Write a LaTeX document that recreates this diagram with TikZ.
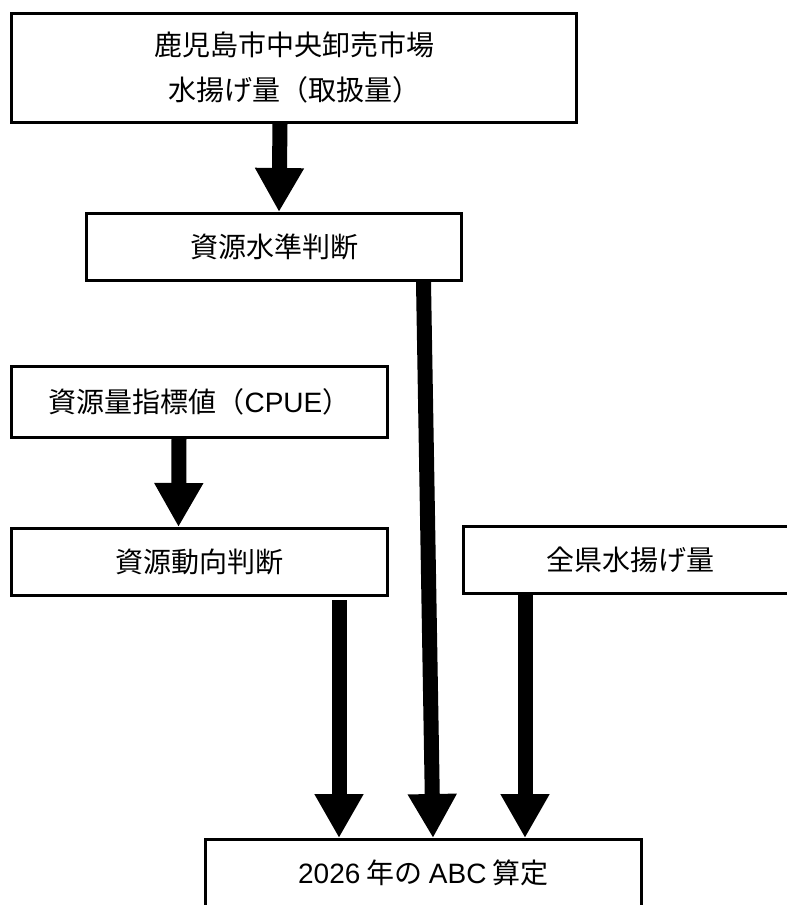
\documentclass[tikz,border=0pt]{standalone}
\usepackage{fontspec}
\setmainfont{Liberation Sans}
\newfontfamily\jpfont{Noto Sans CJK JP}
\newfontfamily\latfont{Liberation Sans}
\usetikzlibrary{arrows.meta}
\tikzset{
  box/.style={draw, line width=3pt, fill=white, inner sep=0pt, align=center,
    font=\jpfont\fontsize{28}{45}\selectfont},
  bigarrow/.style={line width=15pt, -{Triangle[width=46pt,length=44pt]}}
}
\begin{document}
\begin{tikzpicture}[x=1pt, y=-1pt]
    \clip (0,0) rectangle (787,905);

    % Market landings
    \node[box, minimum width=565pt, minimum height=109pt] (market) at (294,68) {
      鹿児島市中央卸売市場\\水揚げ量（取扱量）
    };

    % Stock level judgement
    \node[box, minimum width=375pt, minimum height=67pt] (level) at (274,247) {資源水準判断};

    % Stock index
    \node[box, minimum width=376pt, minimum height=71pt] (cpue) at (199.5,402) {資源量指標値（{\latfont CPUE}）};

    % Stock trend judgement
    \node[box, minimum width=376pt, minimum height=67pt] (trend) at (199.5,562) {資源動向判断};

    % Prefecture landings
    \node[box, minimum width=333pt, minimum height=67pt] (catch) at (630,560) {全県水揚げ量};

    % ABC calculation
    \node[box, minimum width=436pt, minimum height=67pt] (abc) at (423.5,873) {{\latfont 2026} 年の {\latfont ABC} 算定};

    % Flow arrows
    \draw[bigarrow] ([xshift=-14pt]market.south) -- ([xshift=5pt]level.north);
    \draw[bigarrow] ([xshift=149.5pt]level.south) -- ([xshift=9.5pt]abc.north);
    \draw[bigarrow] ([xshift=-20.5pt]cpue.south) -- ([xshift=-21pt]trend.north);
    \draw[bigarrow] ([xshift=139.5pt,yshift=-3pt]trend.south) -- ([xshift=-84.5pt]abc.north);
    \draw[bigarrow] ([xshift=-105pt]catch.south) -- ([xshift=101.5pt]abc.north);
  \end{tikzpicture}
\end{document}
